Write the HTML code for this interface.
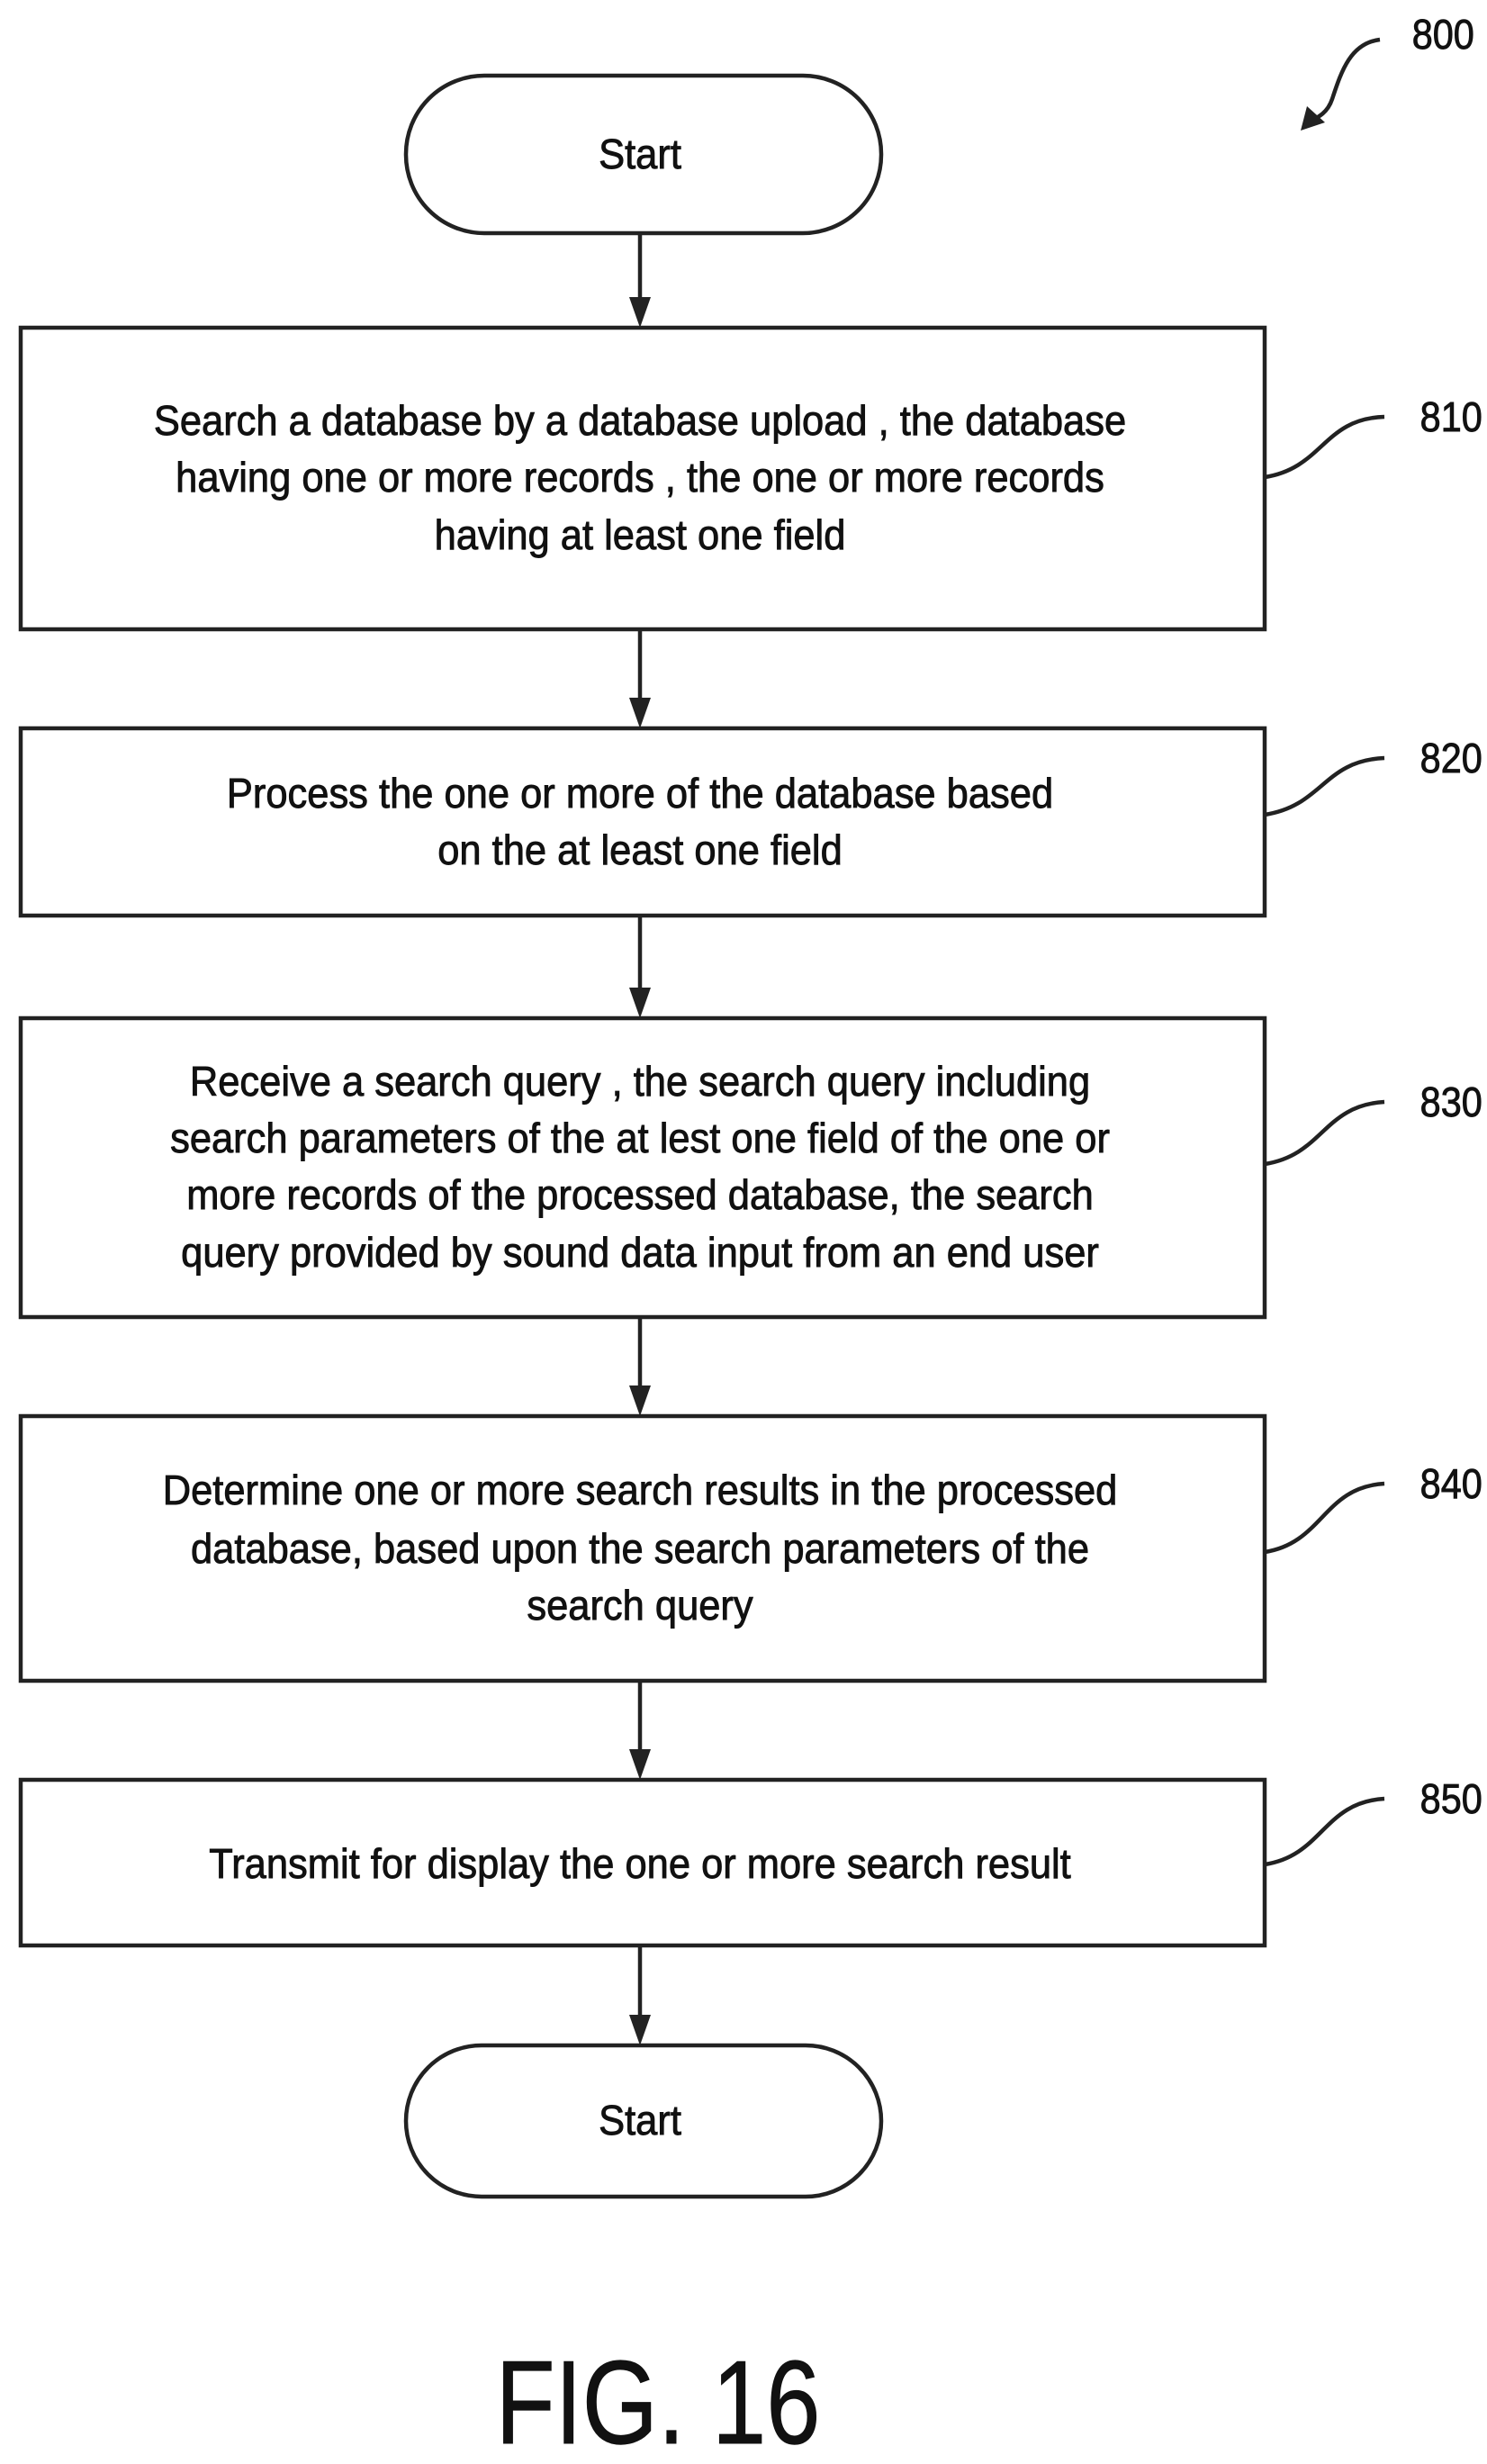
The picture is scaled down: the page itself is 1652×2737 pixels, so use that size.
<!DOCTYPE html>
<html><head><meta charset="utf-8"><style>
html,body{margin:0;padding:0;background:#fff;}
svg{display:block;}
text{font-family:"Liberation Sans",Arial,sans-serif;fill:#111;stroke:#111;stroke-width:0.9;}
</style></head><body>
<svg width="1652" height="2737" viewBox="0 0 1652 2737" xmlns="http://www.w3.org/2000/svg">
<g stroke="#222" stroke-width="4.5" fill="none">
<rect x="451" y="84" width="528" height="175" rx="87" ry="87"/>
<rect x="23" y="364" width="1382" height="335"/>
<rect x="23" y="809" width="1382" height="208"/>
<rect x="23" y="1131" width="1382" height="332"/>
<rect x="23" y="1573" width="1382" height="294"/>
<rect x="23" y="1977" width="1382" height="184"/>
<rect x="451" y="2272" width="528" height="168" rx="84" ry="84"/>
<line x1="711" y1="259" x2="711" y2="334"/>
<line x1="711" y1="699" x2="711" y2="779"/>
<line x1="711" y1="1017" x2="711" y2="1101"/>
<line x1="711" y1="1463" x2="711" y2="1543"/>
<line x1="711" y1="1867" x2="711" y2="1947"/>
<line x1="711" y1="2161" x2="711" y2="2242"/>
<path d="M1405 530 C1470 520 1470 465 1538 463"/>
<path d="M1405 905 C1470 895 1470 845 1538 842"/>
<path d="M1405 1293 C1470 1283 1470 1228 1538 1224"/>
<path d="M1405 1724 C1470 1714 1470 1652 1538 1648"/>
<path d="M1405 2071 C1470 2061 1470 2002 1538 1998"/>
<path d="M1533 44 C1500 48 1490 80 1480 110 C1475 125 1465 130 1455 135"/>
</g>
<g fill="#222">
<polygon points="699,330 723,330 711,364"/>
<polygon points="699,775 723,775 711,809"/>
<polygon points="699,1097 723,1097 711,1131"/>
<polygon points="699,1539 723,1539 711,1573"/>
<polygon points="699,1943 723,1943 711,1977"/>
<polygon points="699,2238 723,2238 711,2272"/>
<polygon points="1445,145 1452,118 1472,136"/>
</g>
<g font-size="46" text-anchor="middle">
<g transform="translate(711,0) scale(0.945,1)">
<text x="0" y="187">Start</text>
<text x="0" y="483">Search a database by a database upload , the database</text>
<text x="0" y="546">having one or more records , the one or more records</text>
<text x="0" y="610">having at least one field</text>
<text x="0" y="897">Process the one or more  of the database based</text>
<text x="0" y="960">on the at least one field</text>
<text x="0" y="1217">Receive a search query , the search query including</text>
<text x="0" y="1280">search parameters of the at lest one field of the one or</text>
<text x="0" y="1343">more records of the processed database, the search</text>
<text x="0" y="1407">query provided by sound data input from an end user</text>
<text x="0" y="1671">Determine one or more search results in the processed</text>
<text x="0" y="1736">database, based upon the search parameters of the</text>
<text x="0" y="1799">search query</text>
<text x="0" y="2086">Transmit for display the one or more search result</text>
<text x="0" y="2371">Start</text>
</g>
<g transform="scale(0.9,1)" text-anchor="start">
<text x="1743" y="54">800</text>
<text x="1753" y="479">810</text>
<text x="1753" y="858">820</text>
<text x="1753" y="1240">830</text>
<text x="1753" y="1664">840</text>
<text x="1753" y="2014">850</text>
</g>
<g transform="translate(731,0) scale(0.82,1)">
<text x="0" y="2714" font-size="132" stroke-width="0">FIG. 16</text>
</g>
</g>
</svg>
</body></html>
